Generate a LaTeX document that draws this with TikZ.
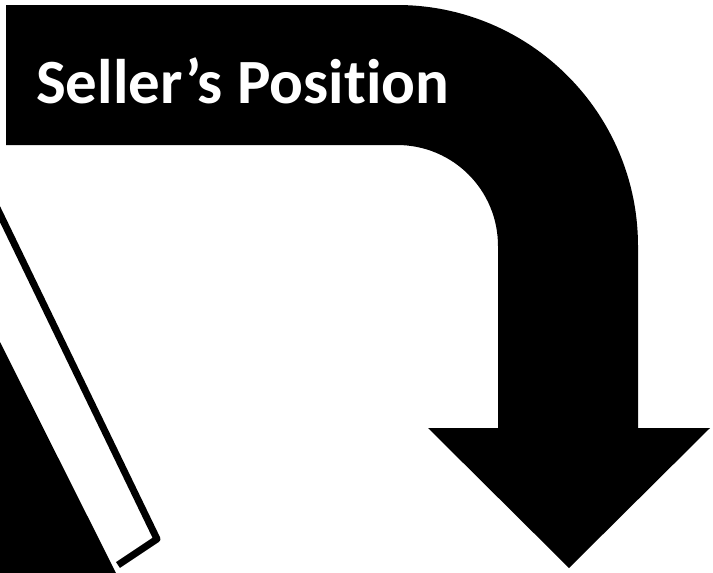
\documentclass[tikz,border=0pt]{standalone}
\usepackage{fontspec}
\setmainfont{Carlito}[Ligatures=NoCommon]
\begin{document}
\begin{tikzpicture}[x=1pt,y=-1pt,
  blackfill/.style={fill=black,draw=none},
  bookline/.style={draw=black,line width=7pt,line join=round,line cap=butt},
  titletext/.style={text=white,font=\bfseries\fontsize{63}{70}\selectfont,inner sep=0pt,anchor=base west}]
\useasboundingbox (0,0) rectangle (713,573);
% bent arrow
\fill[blackfill] (6,5) -- (397,5)
  .. controls (530,5) and (638,113) .. (638,246)
  -- (638,428) -- (710,428) -- (569,568) -- (428,428) -- (498,428) -- (498,246)
  .. controls (498,190) and (453,145) .. (397,145)
  -- (6,145) -- cycle;
% left shapes
\fill[blackfill] (0,342) -- (116,573) -- (0,573) -- cycle;
\coordinate (b1) at (-3,208);
\coordinate (b2) at (157,539);
\coordinate (b3) at (118,565);
\draw[bookline] (b1) -- (b2) -- (b3);
\node[titletext] (title) at (36,103) {Seller’s Position};
\end{tikzpicture}
\end{document}
